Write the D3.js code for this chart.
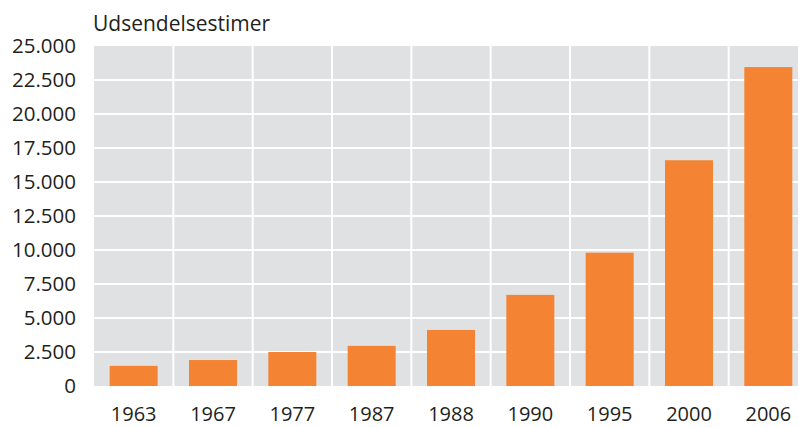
<!DOCTYPE html>
<html>
<head>
<meta charset="utf-8">
<script src="https://cdn.jsdelivr.net/npm/d3@7"></script>
<style>
  body { margin: 0; background: #fff; }
  svg { display: block; font-family: "Open Sans", sans-serif; }
</style>
</head>
<body>
<script>
const years = ['1963', '1967', '1977', '1987', '1988', '1990', '1995', '2000', '2006'];
const hours = [1480, 1910, 2500, 2950, 4120, 6700, 9800, 16600, 23450];
const yTicks = [0, 2500, 5000, 7500, 10000, 12500, 15000, 17500, 20000, 22500, 25000];
const yTitle = 'Udsendelsestimer';

const W = 798, H = 427;
const margin = { top: 46, left: 94, bottom: 41 },
    plotW = 714,
    plotH = H - margin.top - margin.bottom;

const fmt = d3.formatLocale({ decimal: ',', thousands: '.', grouping: [3], currency: ['', ''] }).format(',');

let x = d3.scaleBand().domain(years).range([0, plotW]).paddingInner(0).paddingOuter(0),
    y = d3.scaleLinear().domain([0, 25000]).range([plotH, 0]);

let svg = d3.select('body').append('svg')
    .attr('width', W).attr('height', H);

let g = svg.append('g').attr('transform', `translate(${margin.left}, ${margin.top})`);

// grey plot background
g.append('rect').attr('x', 0).attr('y', 0).attr('width', plotW).attr('height', plotH).attr('fill', '#e0e1e3');

// white grid
g.selectAll('.hgrid').data(yTicks.slice(1, -1)).enter().append('line')
    .attr('x1', 0).attr('x2', plotW)
    .attr('y1', d => y(d)).attr('y2', d => y(d))
    .attr('stroke', '#fff').attr('stroke-width', 2);

g.selectAll('.vgrid').data(years.slice(1)).enter().append('line')
    .attr('x1', d => x(d)).attr('x2', d => x(d))
    .attr('y1', 0).attr('y2', plotH)
    .attr('stroke', '#fff').attr('stroke-width', 2);

// bars
const barW = 48;
g.selectAll('.bar').data(years).enter().append('rect')
    .attr('x', (d, i) => x(d) + x.bandwidth() / 2 - barW / 2)
    .attr('y', (d, i) => y(hours[i]))
    .attr('width', barW)
    .attr('height', (d, i) => y(0) - y(hours[i]))
    .attr('fill', '#f48434');

// y axis labels
let yAxis = d3.axisLeft(y).tickValues(yTicks).tickFormat(fmt).tickSize(0).tickPadding(18);
g.append('g').call(yAxis)
    .call(a => a.select('.domain').remove())
    .selectAll('text').attr('font-size', 20.5).attr('fill', '#231f20')
    .attr('font-family', '"Open Sans", sans-serif');

// x axis labels
let xAxis = d3.axisBottom(x).tickSize(0).tickPadding(21);
g.append('g').attr('transform', `translate(0, ${plotH})`).call(xAxis)
    .call(a => a.select('.domain').remove())
    .selectAll('text').attr('font-size', 20).attr('fill', '#231f20')
    .attr('font-family', '"Open Sans", sans-serif');

svg.append('text').attr('x', 93).attr('y', 31)
    .attr('font-size', 21).attr('fill', '#231f20')
    .text(yTitle);
</script>
</body>
</html>
